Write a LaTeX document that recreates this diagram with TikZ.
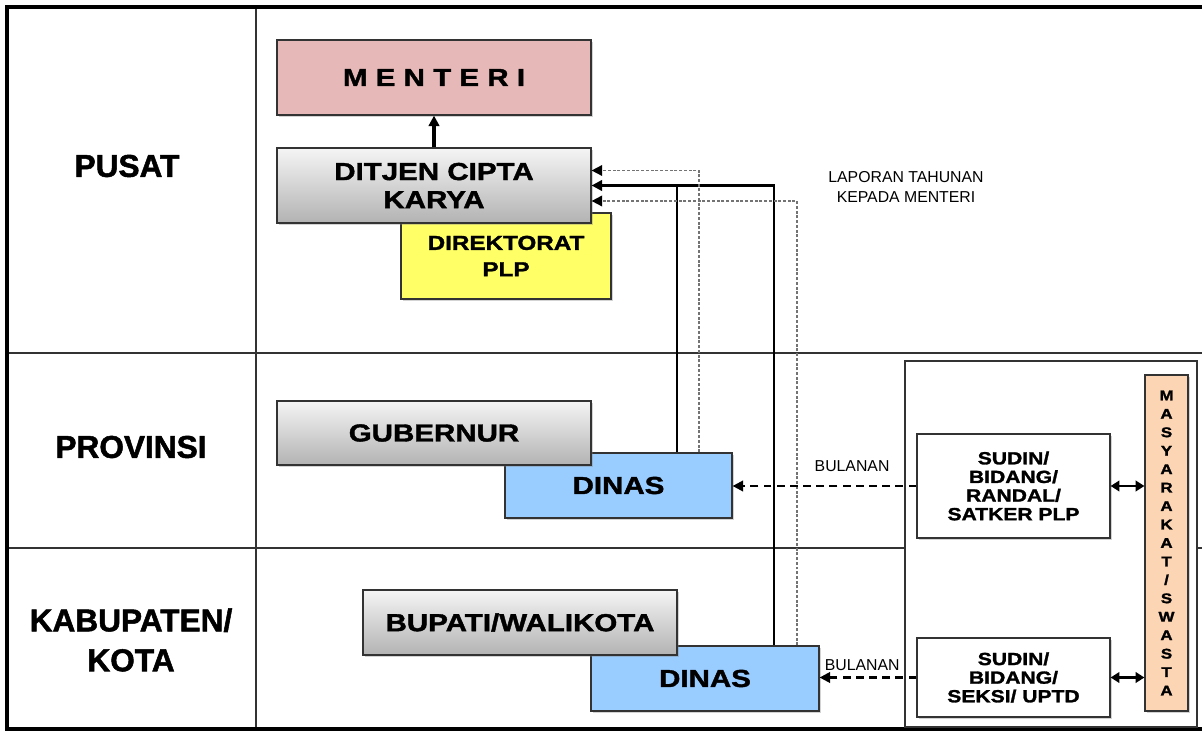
\documentclass[tikz,border=0pt]{standalone}
\usepackage{fontspec}
\setmainfont{Liberation Sans}
\newfontfamily\wide{Liberation Sans}[FakeStretch=1.2, BoldFeatures={FakeBold=1.6}]
\newfontfamily\lebar{Liberation Sans}[BoldFeatures={FakeBold=1.6}]
\usetikzlibrary{arrows.meta,shadows}
\definecolor{merah}{HTML}{E6B8B7}
\definecolor{kuning}{HTML}{FFFF66}
\definecolor{biru}{HTML}{99CCFF}
\definecolor{oranye}{HTML}{FCD5B4}
\tikzset{
  garis/.style={draw=black!80, line width=0.6pt},
  box/.style={draw=black!80, line width=0.7pt, align=center, inner sep=0pt,
    drop shadow={shadow xshift=1.2pt, shadow yshift=-1.2pt, opacity=0.35},
    font=\wide\bfseries\fontsize{14}{16}\selectfont},
  abu/.style={box, top color=black!4, bottom color=black!30},
  tingkat/.style={align=center, font=\lebar\bfseries\fontsize{18}{22.7}\selectfont},
  kecil/.style={align=center, font=\fontsize{9}{11.3}\selectfont},
  tebal/.style={line width=1.4pt, -{Triangle[length=6pt,width=6pt]}},
  titik/.style={draw=black!55, line width=1pt, dash pattern=on 1.7pt off 1pt,
    -{Triangle[length=6pt,width=6pt,color=black]}},
  putus/.style={line width=1.3pt, dash pattern=on 4.5pt off 3pt, -{Triangle[length=6pt,width=6pt]}},
  dua/.style={line width=1.2pt, {Triangle[length=5pt,width=6pt]}-{Triangle[length=5pt,width=6pt]}}
}
\begin{document}
\begin{tikzpicture}[x=0.02cm,y=-0.02cm]
\useasboundingbox (0,0) rectangle (1202,732);
% tabel
\draw[garis] (256,8) -- (256,729);
\draw[garis] (8,353) -- (1202,353);
\draw[garis] (8,548) -- (1202,548);
\draw[line width=2.2pt] (1202,7) -- (7,7) -- (7,729) -- (1202,729);
\node[tingkat] (pusat) at (127,166) {PUSAT};
\node[tingkat] (prov) at (131,447) {PROVINSI};
\node[tingkat] (kab) at (131,640) {KABUPATEN/\\KOTA};
% pusat
\node[box, fill=merah, minimum width=6.28cm, minimum height=1.5cm] (menteri) at (434,77.5) {M E N T E R I};
\node[box, fill=kuning, minimum width=4.2cm, minimum height=1.72cm,
  font=\wide\bfseries\fontsize{11.5}{15}\selectfont] (dit) at (506,256) {DIREKTORAT\\PLP};
\node[abu, minimum width=6.28cm, minimum height=1.5cm] (ditjen) at (434,185.5) {DITJEN CIPTA\\KARYA};
\draw[line width=1.8pt, -{Triangle[length=6pt,width=6pt]}] (ditjen.north) -- (menteri.south);
\node[kecil] (lapor) at (906,187) {LAPORAN TAHUNAN\\KEPADA MENTERI};
% provinsi, kabupaten
\node[box, fill=biru, minimum width=4.54cm, minimum height=1.3cm] (dinasprov) at (618.5,485.5) {DINAS};
\node[abu, minimum width=6.28cm, minimum height=1.28cm] (gub) at (434,433) {GUBERNUR};
\node[box, fill=biru, minimum width=4.56cm, minimum height=1.3cm] (dinaskab) at (705,678.5) {DINAS};
\node[abu, minimum width=6.28cm, minimum height=1.3cm] (bupati) at (520,622.5) {BUPATI/WALIKOTA};
% laporan ke ditjen
\draw[tebal] ([xshift=1.38cm]dinaskab.north) |- (ditjen.east);
\draw[line width=1.4pt] ([xshift=1.17cm]dinasprov.north) -- ([xshift=1.17cm]dinasprov.north |- ditjen.east);
\draw[titik] ([xshift=1.61cm]dinasprov.north) |- ([yshift=0.3cm]ditjen.east);
\draw[titik] ([xshift=1.84cm]dinaskab.north) |- ([yshift=-0.31cm]ditjen.east);
% pelaksana
\draw[garis, fill=white] (905,361) rectangle (1197,727);
\node[box, fill=white, drop shadow={opacity=0}, minimum width=3.86cm, minimum height=2.08cm,
  font=\wide\bfseries\fontsize{10}{10.6}\selectfont] (sudin1) at (1013.5,486) {SUDIN/\\BIDANG/\\RANDAL/\\SATKER PLP};
\node[box, fill=white, drop shadow={opacity=0}, minimum width=3.86cm, minimum height=1.58cm,
  font=\wide\bfseries\fontsize{10}{10.6}\selectfont] (sudin2) at (1013.5,677.5) {SUDIN/\\BIDANG/\\SEKSI/ UPTD};
\node[box, fill=oranye, minimum width=0.86cm, minimum height=6.72cm,
  font=\wide\bfseries\fontsize{8}{10.5}\selectfont] (masy) at (1166.5,543)
  {M\\A\\S\\Y\\A\\R\\A\\K\\A\\T\\/\\S\\W\\A\\S\\T\\A};
\draw[putus] (sudin1.west) -- (sudin1.west -| dinasprov.east) node[pos=0.35, above=4pt, kecil] {BULANAN};
\draw[putus] (sudin2.west) -- (sudin2.west -| dinaskab.east) node[pos=0.56, above=0pt, kecil] {BULANAN};
\draw[dua] (sudin1.east) -- (sudin1.east -| masy.west);
\draw[dua] (sudin2.east) -- (sudin2.east -| masy.west);
\end{tikzpicture}
\end{document}
